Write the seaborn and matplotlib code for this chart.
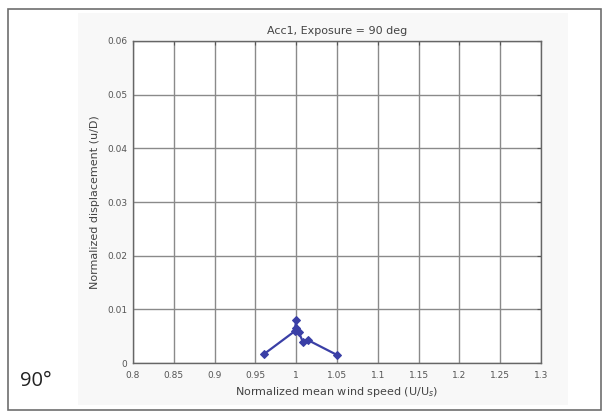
import numpy as np
import pandas as pd
import seaborn as sns
import matplotlib.pyplot as plt
from matplotlib.patches import Rectangle

# datos
wind_speed = [0.96, 0.998, 1.0, 1.0, 1.003, 1.008, 1.014, 1.05]
displacement = [0.0016, 0.0059, 0.0080, 0.0066, 0.0058, 0.0040, 0.0043, 0.0015]
x_ticks = [0.8, 0.85, 0.9, 0.95, 1.0, 1.05, 1.1, 1.15, 1.2, 1.25, 1.3]
x_labels = ["0.8", "0.85", "0.9", "0.95", "1", "1.05", "1.1", "1.15", "1.2", "1.25", "1.3"]
y_ticks = [0, 0.01, 0.02, 0.03, 0.04, 0.05, 0.06]
y_labels = ["0", "0.01", "0.02", "0.03", "0.04", "0.05", "0.06"]

datos = pd.DataFrame({"u": wind_speed, "d": displacement})

sns.set_style("white")
plt.rcParams["font.family"] = ["DejaVu Sans"]

fig = plt.figure(figsize=(6.09, 4.19), dpi=100)

# marco exterior y fondo de la figura
fig.patches.append(Rectangle((8 / 609, 9 / 419), 593 / 609, 401 / 419, transform=fig.transFigure,
                             facecolor="white", edgecolor="#6e6e6e", linewidth=1.2, zorder=-2))
fig.patches.append(Rectangle((78 / 609, 14 / 419), 490 / 609, 392 / 419, transform=fig.transFigure,
                             facecolor="#f8f8f8", edgecolor="none", zorder=-1))

ax = fig.add_axes([133 / 609, 1 - 363 / 419, 408 / 609, 322 / 419])
ax.set_zorder(2)
ax.set_facecolor("white")

sns.lineplot(data=datos, x="u", y="d", estimator=None, sort=False, marker="D",
             color="#3a3fa6", linewidth=1.6, markersize=4.5, markeredgecolor="#3a3fa6", ax=ax)

ax.set_xlim(0.8, 1.3)
ax.set_ylim(0, 0.06)
ax.set_xticks(x_ticks)
ax.set_xticklabels(x_labels)
ax.set_yticks(y_ticks)
ax.set_yticklabels(y_labels)
ax.grid(True, color="#8a8a8a", linewidth=1.0, linestyle="-")
ax.set_axisbelow(True)
ax.tick_params(direction="in", length=3, width=0.8, colors="#555555", labelsize=6.5,
               top=True, right=True)
ax.tick_params(axis="x", pad=6)
ax.tick_params(axis="y", pad=4)
for s in ax.spines.values():
    s.set_color("#666666")
    s.set_linewidth(1.0)

ax.set_title("Acc1, Exposure = 90 deg", fontsize=8, color="#444444", pad=5)
ax.set_xlabel("Normalized mean wind speed (U/U$_s$)", fontsize=8, color="#444444", labelpad=3)
ax.set_ylabel("Normalized displacement (u/D)", fontsize=8, color="#444444", labelpad=5)

fig.text(20 / 609, 1 - 381 / 419, "90°", fontsize=14.5, family=["Open Sans", "DejaVu Sans"],
         color="#222222", va="center", ha="left")

plt.savefig("out.png", dpi=100)
